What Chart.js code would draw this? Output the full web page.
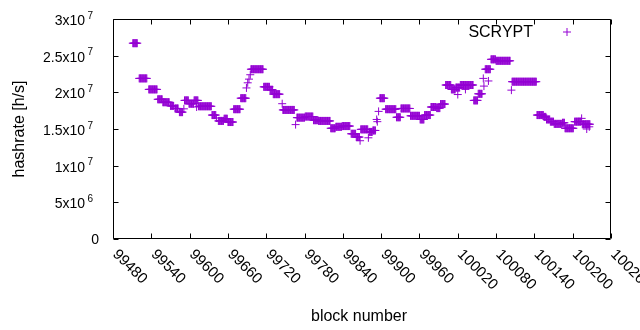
<!DOCTYPE html>
<html>
<head>
<meta charset="utf-8">
<script src="https://cdn.jsdelivr.net/npm/chart.js@4.4.1/dist/chart.umd.min.js"></script>
<style>
  html, body { margin: 0; padding: 0; background: #fff; }
  canvas { display: block; }
</style>
</head>
<body>
<canvas id="chart" width="640" height="330"></canvas>
<script>
'use strict';

// runs of blocks that share the same hashrate estimate (first block, last block, h/s)
const runFirst = [
  99511, 99521, 99536, 99550, 99558, 99570, 99577, 99584, 99591, 99592,
  99599, 99607, 99611, 99614, 99635, 99642, 99645, 99654, 99660, 99669,
  99680, 99689, 99691, 99693, 99695, 99696, 99716, 99726, 99731, 99745,
  99746, 99766, 99768, 99781, 99794, 99802, 99821, 99829, 99839, 99853,
  99861, 99867, 99868, 99880, 99881, 99887, 99893, 99894, 99896, 99898,
  99907, 99924, 99931, 99946, 99961, 99968, 99978, 99987, 99993, 100001,
  100010, 100017, 100020, 100024, 100032, 100045, 100052, 100060, 100061, 100063,
  100068, 100072, 100080, 100104, 100105, 100144, 100155, 100159, 100165, 100171,
  100184, 100188, 100203, 100214, 100215, 100222, 100226
];
const runLast = [
  99518, 99533, 99549, 99557, 99568, 99575, 99582, 99589, 99591, 99598,
  99606, 99613, 99611, 99634, 99641, 99642, 99653, 99659, 99668, 99679,
  99688, 99689, 99691, 99693, 99695, 99715, 99725, 99730, 99741, 99745,
  99764, 99766, 99780, 99793, 99801, 99820, 99828, 99838, 99851, 99860,
  99866, 99867, 99879, 99880, 99886, 99891, 99893, 99894, 99896, 99905,
  99923, 99930, 99945, 99960, 99967, 99977, 99986, 99992, 100000, 100009,
  100016, 100023, 100020, 100044, 100032, 100051, 100058, 100060, 100061, 100071,
  100068, 100079, 100102, 100104, 100143, 100154, 100158, 100164, 100170, 100183,
  100187, 100201, 100213, 100214, 100227, 100222, 100226
];
const runRate = [
  26.7e6, 21.9e6, 20.4e6, 19.05e6, 18.65e6, 18.15e6, 17.8e6, 17.3e6, 17.75e6, 18.9e6,
  18.45e6, 18.9e6, 18.0e6, 18.1e6, 16.9e6, 16.5e6, 16.1e6, 16.4e6, 15.95e6, 17.7e6,
  19.2e6, 20.6e6, 21.3e6, 21.8e6, 22.4e6, 23.15e6, 20.75e6, 20.35e6, 19.75e6, 18.45e6,
  17.6e6, 15.6e6, 16.55e6, 16.7e6, 16.2e6, 16.1e6, 15.1e6, 15.3e6, 15.4e6, 14.35e6,
  13.9e6, 13.4e6, 14.95e6, 13.8e6, 14.6e6, 14.8e6, 16.3e6, 16.0e6, 17.4e6, 19.2e6,
  17.7e6, 16.6e6, 17.8e6, 16.8e6, 16.3e6, 16.9e6, 18.0e6, 17.85e6, 18.4e6, 21.0e6,
  20.4e6, 20.65e6, 19.7e6, 21.0e6, 20.4e6, 18.9e6, 19.8e6, 21.9e6, 20.85e6, 23.15e6,
  21.55e6, 24.5e6, 24.3e6, 20.3e6, 21.45e6, 16.9e6, 16.65e6, 16.3e6, 16.0e6, 15.7e6,
  15.85e6, 15.1e6, 16.0e6, 16.45e6, 15.65e6, 15.0e6, 15.3e6
];

const seriesName = 'SCRYPT';
const xTicks = [99480, 99540, 99600, 99660, 99720, 99780, 99840, 99900, 99960,
  100020, 100080, 100140, 100200, 100260];
const yTicks = [0, 5e6, 1e7, 1.5e7, 2e7, 2.5e7, 3e7];
const yTickBase = ['0', '5x10', '1x10', '1.5x10', '2x10', '2.5x10', '3x10'];
const yTickExp = ['', '6', '7', '7', '7', '7', '7'];
const xTitle = 'block number';
const yTitle = 'hashrate [h/s]';

const purple = 'rgb(148,0,211)';
const FONT = '"Liberation Sans", Arial, sans-serif';

// one point per block
const points = [];
for (let i = 0; i < runFirst.length; i++) {
  for (let b = runFirst[i]; b <= runLast[i]; b++) {
    points.push({x: b, y: runRate[i]});
  }
}

// gnuplot look: closed border, inward mirrored tics, rotated x labels, key top right
const gnuplotFrame = {
  id: 'gnuplotFrame',
  afterDatasetsDraw(chart) {
    const {ctx, chartArea: a, scales: {x, y}} = chart;
    const L = a.left + 0.5, R = a.right - 0.5, T = a.top + 0.5, B = a.bottom - 0.5;
    const tic = 5;
    ctx.save();
    ctx.strokeStyle = '#000';
    ctx.lineWidth = 1;
    ctx.beginPath();
    ctx.rect(L, T, R - L, B - T);
    for (const v of xTicks) {
      const px = Math.round(x.getPixelForValue(v)) + 0.5;
      ctx.moveTo(px, B); ctx.lineTo(px, B - tic);
      ctx.moveTo(px, T); ctx.lineTo(px, T + tic);
    }
    for (const v of yTicks) {
      const py = Math.round(y.getPixelForValue(v)) + 0.5;
      ctx.moveTo(L, py); ctx.lineTo(L + tic, py);
      ctx.moveTo(R, py); ctx.lineTo(R - tic, py);
    }
    ctx.stroke();

    ctx.fillStyle = '#000';
    // y tick labels with superscript exponent
    yTicks.forEach((v, i) => {
      const py = y.getPixelForValue(v) + 1;
      ctx.textBaseline = 'middle';
      ctx.font = '14px ' + FONT;
      if (yTickExp[i]) {
        ctx.textAlign = 'right';
        ctx.fillText(yTickBase[i], 85, py + 1);
        ctx.font = '10px ' + FONT;
        ctx.textAlign = 'left';
        ctx.fillText(yTickExp[i], 87.5, py - 4);
      } else {
        ctx.textAlign = 'right';
        ctx.fillText(yTickBase[i], 99, py);
      }
    });

    // x tick labels rotated by -45 (gnuplot sense)
    ctx.font = '15px ' + FONT;
    ctx.textAlign = 'left';
    ctx.textBaseline = 'middle';
    for (const v of xTicks) {
      const px = x.getPixelForValue(v);
      ctx.save();
      ctx.translate(px + 2, 252);
      ctx.rotate(Math.PI / 4);
      ctx.fillText(String(v), 0, 0);
      ctx.restore();
    }

    // axis titles
    ctx.font = '16px ' + FONT;
    ctx.textAlign = 'center';
    ctx.textBaseline = 'alphabetic';
    ctx.fillText(xTitle, 359, 321);
    ctx.save();
    ctx.translate(24, 129);
    ctx.rotate(-Math.PI / 2);
    ctx.fillText(yTitle, 0, 0);
    ctx.restore();

    // key
    ctx.textAlign = 'right';
    ctx.fillText(seriesName, 533, 37);
    ctx.strokeStyle = purple;
    Chart.helpers.drawPoint(ctx, {pointStyle: 'cross', radius: 4, borderWidth: 1}, 567, 32);
    ctx.restore();
  }
};

new Chart(document.getElementById('chart'), {
  type: 'scatter',
  data: {
    datasets: [{
      label: seriesName,
      data: points,
      pointStyle: 'cross',
      pointRadius: 4,
      borderWidth: 1,
      borderColor: purple,
      backgroundColor: purple,
      clip: false
    }]
  },
  options: {
    responsive: false,
    animation: false,
    devicePixelRatio: 1,
    layout: {padding: {left: 113, right: 29, top: 19, bottom: 91}},
    plugins: {
      legend: {display: false},
      tooltip: {enabled: false}
    },
    events: [],
    scales: {
      x: {type: 'linear', display: false, min: 99480, max: 100260},
      y: {type: 'linear', display: false, min: 0, max: 3e7}
    }
  },
  plugins: [gnuplotFrame]
});
</script>
</body>
</html>
